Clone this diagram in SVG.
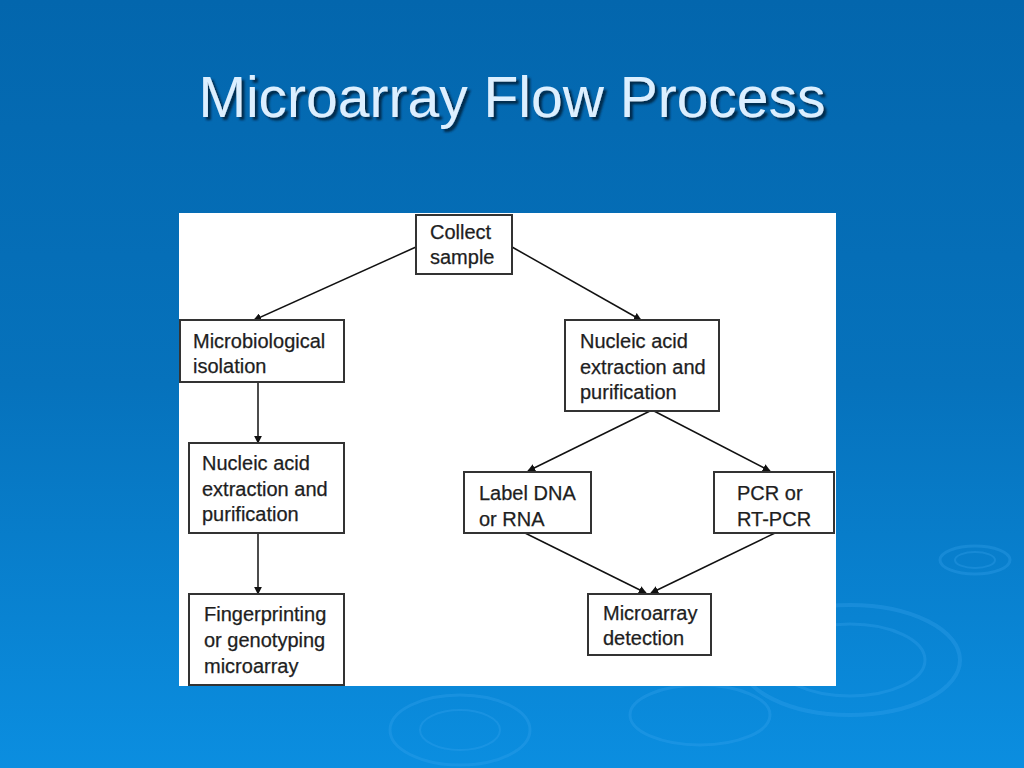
<svg xmlns="http://www.w3.org/2000/svg" width="1024" height="768" viewBox="0 0 1024 768">
<defs>
<linearGradient id="bg" x1="0" y1="0" x2="0" y2="1">
<stop offset="0" stop-color="#0366ad"/>
<stop offset="0.5" stop-color="#0672bc"/>
<stop offset="1" stop-color="#0b8ee0"/>
</linearGradient>
<marker id="ah" viewBox="0 0 10 10" refX="9" refY="5" markerWidth="8" markerHeight="8" markerUnits="userSpaceOnUse" orient="auto">
<path d="M0,0 L10,5 L0,10 z" fill="#111"/>
</marker>
<filter id="sh" x="-5%" y="-20%" width="110%" height="150%">
<feDropShadow dx="3" dy="3" stdDeviation="1" flood-color="#002040" flood-opacity="0.9"/>
</filter>
</defs>
<style>
.box{fill:#fff;stroke:#333;stroke-width:2}
.t{font-family:"Liberation Sans",Arial,sans-serif;font-size:20px;fill:#1e1e1e;stroke:#1e1e1e;stroke-width:0.25}
.c{stroke:#111;stroke-width:1.5;fill:none;marker-end:url(#ah)}
.rip{fill:none;stroke:#3aa6ee;stroke-opacity:0.3}
</style>
<rect width="1024" height="768" fill="url(#bg)"/>
<g id="ripples">
<ellipse class="rip" cx="975" cy="560" rx="35" ry="14" stroke-width="3"/>
<ellipse class="rip" cx="975" cy="560" rx="20" ry="8" stroke-width="2"/>
<ellipse class="rip" cx="850" cy="660" rx="110" ry="55" stroke-width="4"/>
<ellipse class="rip" cx="850" cy="660" rx="75" ry="36" stroke-width="3"/>
<ellipse class="rip" cx="700" cy="715" rx="70" ry="30" stroke-width="3"/>
<ellipse class="rip" cx="460" cy="730" rx="70" ry="35" stroke-width="3"/>
<ellipse class="rip" cx="460" cy="730" rx="40" ry="20" stroke-width="2"/>
</g>
<text x="512" y="117" text-anchor="middle" font-family="'Liberation Sans',Arial,sans-serif" font-size="57" fill="#dcefff" filter="url(#sh)">Microarray Flow Process</text>
<rect x="179" y="213" width="657" height="473" fill="#fff"/>
<g id="connectors">
<line class="c" x1="416" y1="247" x2="254" y2="320"/>
<line class="c" x1="512" y1="247" x2="641" y2="320"/>
<line class="c" x1="258" y1="382" x2="258" y2="443"/>
<line class="c" x1="258" y1="533" x2="258" y2="594"/>
<line class="c" x1="650" y1="411" x2="528" y2="471"/>
<line class="c" x1="654" y1="411" x2="770" y2="471"/>
<line class="c" x1="525" y1="533" x2="646" y2="593"/>
<line class="c" x1="775" y1="533" x2="651" y2="593"/>
</g>
<g id="collect">
<rect class="box" x="416" y="215" width="96" height="59"/>
<text class="t" x="430" y="239">Collect</text>
<text class="t" x="430" y="264">sample</text>
</g>
<g id="microbio">
<rect class="box" x="180" y="320" width="164" height="62"/>
<text class="t" x="193" y="348">Microbiological</text>
<text class="t" x="193" y="373">isolation</text>
</g>
<g id="nucleic-left">
<rect class="box" x="189" y="443" width="155" height="90"/>
<text class="t" x="202" y="470">Nucleic acid</text>
<text class="t" x="202" y="496">extraction and</text>
<text class="t" x="202" y="521">purification</text>
</g>
<g id="fingerprint">
<rect class="box" x="189" y="594" width="155" height="91"/>
<text class="t" x="204" y="621">Fingerprinting</text>
<text class="t" x="204" y="647">or genotyping</text>
<text class="t" x="204" y="673">microarray</text>
</g>
<g id="nucleic-right">
<rect class="box" x="565" y="320" width="154" height="91"/>
<text class="t" x="580" y="348">Nucleic acid</text>
<text class="t" x="580" y="374">extraction and</text>
<text class="t" x="580" y="399">purification</text>
</g>
<g id="label-dna">
<rect class="box" x="464" y="472" width="127" height="61"/>
<text class="t" x="479" y="500">Label DNA</text>
<text class="t" x="479" y="526">or RNA</text>
</g>
<g id="pcr">
<rect class="box" x="714" y="472" width="120" height="61"/>
<text class="t" x="737" y="500">PCR or</text>
<text class="t" x="737" y="526">RT-PCR</text>
</g>
<g id="detection">
<rect class="box" x="588" y="594" width="123" height="61"/>
<text class="t" x="603" y="620">Microarray</text>
<text class="t" x="603" y="645">detection</text>
</g>
</svg>
